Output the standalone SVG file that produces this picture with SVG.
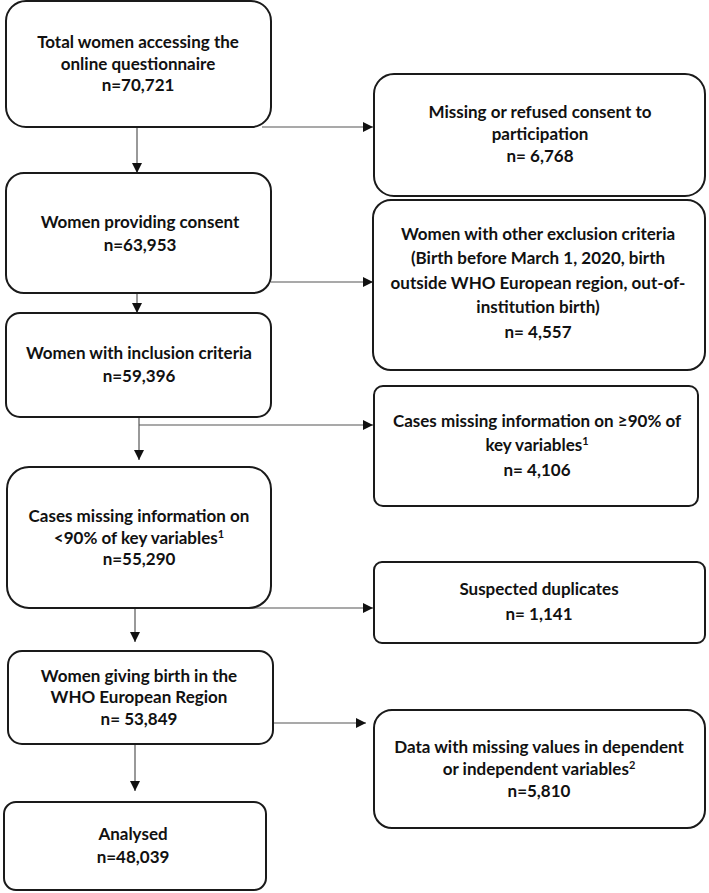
<svg xmlns="http://www.w3.org/2000/svg" width="709" height="893" viewBox="0 0 709 893">
<defs>
<marker id="ah" markerUnits="userSpaceOnUse" markerWidth="10" markerHeight="10" viewBox="0 0 10 10" refX="10" refY="5" orient="auto">
<path d="M0,0 L10,5 L0,10 z" fill="#111"/>
</marker>
<style>
.box{fill:#fff;stroke:#1a1a1a;stroke-width:2}
.t{font-family:Lato,"Open Sans","Liberation Sans",sans-serif;font-weight:bold;font-size:17px;fill:#111;text-anchor:middle}
.c{fill:none;stroke:#555;stroke-width:1.2}
.a{marker-end:url(#ah)}
</style>
</defs>
<rect width="709" height="893" fill="#fff"/>
<g id="connectors">
<path class="c a" d="M137,127 V173"/>
<path class="c a" d="M262,127 H373"/>
<path class="c a" d="M137,293 V313"/>
<path class="c a" d="M271,282 H373"/>
<path class="c a" d="M139,417 V460"/>
<path class="c a" d="M139,425 H373"/>
<path class="c a" d="M250,608 H373"/>
<path class="c a" d="M135,608 V642"/>
<path class="c a" d="M273,723 H366"/>
<path class="c a" d="M135,744 V791"/>
</g>
<g id="n1">
<rect class="box" x="6" y="1" width="265" height="126" rx="20"/>
<text class="t" x="138" y="48">Total women accessing the</text>
<text class="t" x="138" y="70">online questionnaire</text>
<text class="t" x="138" y="91">n=70,721</text>
</g>
<g id="n2">
<rect class="box" x="374" y="74" width="331" height="122" rx="20"/>
<text class="t" x="540" y="118">Missing or refused consent to</text>
<text class="t" x="540" y="140">participation</text>
<text class="t" x="540" y="162">n= 6,768</text>
</g>
<g id="n3">
<rect class="box" x="6" y="173" width="265" height="120" rx="18"/>
<text class="t" x="140" y="228">Women providing consent</text>
<text class="t" x="140" y="251">n=63,953</text>
</g>
<g id="n4">
<rect class="box" x="373" y="200" width="332" height="170" rx="18"/>
<text class="t" x="538" y="240">Women with other exclusion criteria</text>
<text class="t" x="538" y="264">(Birth before March 1, 2020, birth</text>
<text class="t" x="538" y="289">outside WHO European region, out-of-</text>
<text class="t" x="538" y="313">institution birth)</text>
<text class="t" x="538" y="338">n= 4,557</text>
</g>
<g id="n5">
<rect class="box" x="6" y="313" width="265" height="104" rx="14"/>
<text class="t" x="139" y="359">Women with inclusion criteria</text>
<text class="t" x="139" y="382">n=59,396</text>
</g>
<g id="n6">
<rect class="box" x="374" y="386" width="324" height="120" rx="9"/>
<text class="t" x="537" y="427">Cases missing information on ≥90% of</text>
<text class="t" x="537" y="451">key variables<tspan font-size="11" dy="-6">1</tspan></text>
<text class="t" x="537" y="476">n= 4,106</text>
</g>
<g id="n7">
<rect class="box" x="7" y="467" width="264" height="141" rx="22"/>
<text class="t" x="139" y="522">Cases missing information on</text>
<text class="t" x="139" y="544">&lt;90% of key variables<tspan font-size="11" dy="-6">1</tspan></text>
<text class="t" x="139" y="565">n=55,290</text>
</g>
<g id="n8">
<rect class="box" x="374" y="562" width="331" height="81" rx="8"/>
<text class="t" x="539" y="595">Suspected duplicates</text>
<text class="t" x="539" y="620">n= 1,141</text>
</g>
<g id="n9">
<rect class="box" x="8" y="651" width="265" height="93" rx="14"/>
<text class="t" x="139" y="682">Women giving birth in the</text>
<text class="t" x="139" y="703">WHO European Region</text>
<text class="t" x="139" y="725">n= 53,849</text>
</g>
<g id="n10">
<rect class="box" x="374" y="710" width="331" height="118" rx="18"/>
<text class="t" x="539" y="753">Data with missing values in dependent</text>
<text class="t" x="539" y="775">or independent variables<tspan font-size="11" dy="-6">2</tspan></text>
<text class="t" x="539" y="797">n=5,810</text>
</g>
<g id="n11">
<rect class="box" x="4" y="802" width="262" height="88" rx="12"/>
<text class="t" x="133" y="840">Analysed</text>
<text class="t" x="133" y="863">n=48,039</text>
</g>
</svg>
